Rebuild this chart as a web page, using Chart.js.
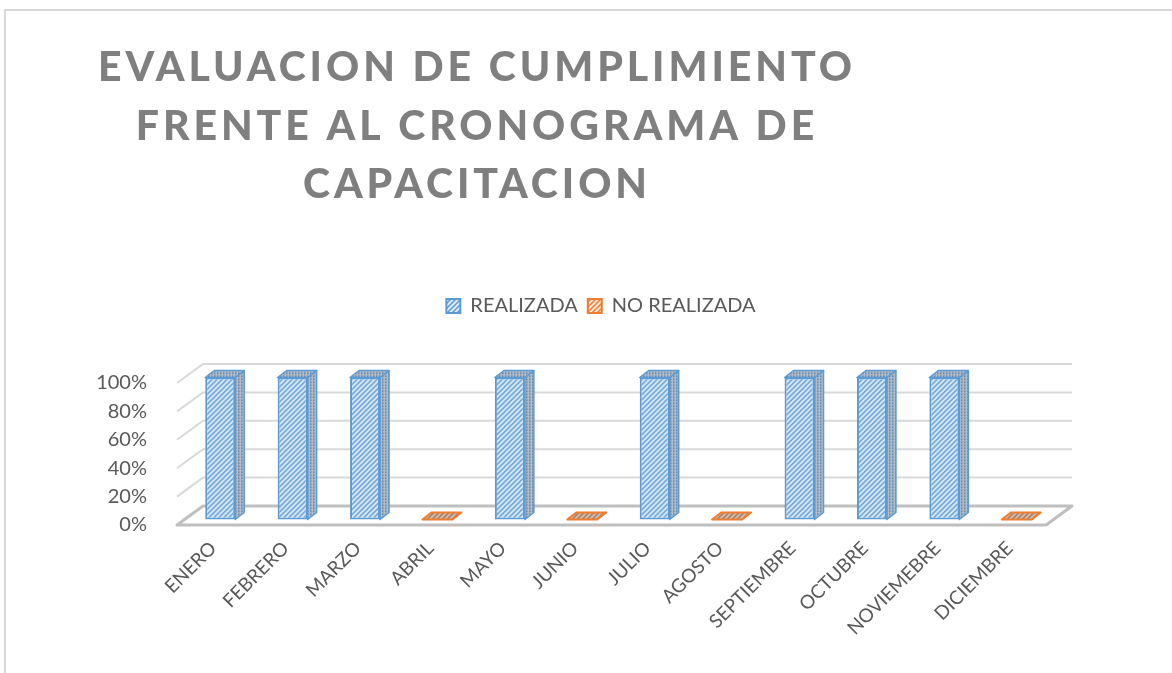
<!DOCTYPE html>
<html>
<head>
<meta charset="utf-8">
<script src="https://cdn.jsdelivr.net/npm/chart.js@4.4.1/dist/chart.umd.min.js"></script>
<style>
  html, body { margin: 0; background: #fff; }
</style>
</head>
<body>
<canvas id="chart" width="1172" height="673"></canvas>
<script>
// data
const months = ["ENERO", "FEBRERO", "MARZO", "ABRIL", "MAYO", "JUNIO", "JULIO",
  "AGOSTO", "SEPTIEMBRE", "OCTUBRE", "NOVIEMEBRE", "DICIEMBRE"];
const realizada = [1, 1, 1, null, 1, null, 1, null, 1, 1, 1, null];
const noRealizada = [null, null, null, 0, null, 0, null, 0, null, null, null, 0];
const yTicks = [0, 0.2, 0.4, 0.6, 0.8, 1];
const yTickLabels = ["0%", "20%", "40%", "60%", "80%", "100%"];
const titleLines = ["EVALUACION DE CUMPLIMIENTO", "FRENTE AL CRONOGRAMA DE", "CAPACITACION"];

// 3d look: wall depth, bar position inside the depth, bar depth
const wall = { x: 26, y: -19 };
const shift = { x: 7, y: -5.5 };
const depth = { x: 9, y: -7 };

function makePattern(bg, fg, kind) {
  const c = document.createElement("canvas");
  const s = kind === "dots" ? 3 : 5;
  c.width = s; c.height = s;
  const g = c.getContext("2d");
  g.fillStyle = bg;
  g.fillRect(0, 0, s, s);
  g.fillStyle = fg;
  g.strokeStyle = fg;
  if (kind === "dots") {
    g.fillRect(0, 0, 1.5, 1.5);
  } else {
    g.lineWidth = 1.5;
    g.beginPath();
    g.moveTo(-1, s + 1); g.lineTo(s + 1, -1);
    g.moveTo(-1, 1); g.lineTo(1, -1);
    g.moveTo(s - 1, s + 1); g.lineTo(s + 1, s - 1);
    g.stroke();
  }
  return g.createPattern(c, "repeat");
}

const blueFront = makePattern("#deebf7", "#5b9bd5", "stripes");
const blueSide = makePattern("#b3bdc8", "#56799f", "dots");
const orangeFront = makePattern("#fbe5d6", "#ed7d31", "stripes");
const orangeSide = makePattern("#d2c2b6", "#a8704b", "stripes");
const sideFills = [blueSide, orangeSide];

const frame = {
  id: "frame",
  beforeDraw(chart) {
    const ctx = chart.ctx;
    ctx.save();
    ctx.strokeStyle = "#d9d9d9";
    ctx.lineWidth = 2;
    ctx.strokeRect(5, 10, 1200, 700);
    ctx.restore();
  },
  afterDraw(chart) {
    const ctx = chart.ctx;
    ctx.save();
    ctx.font = "900 41px Lato";
    ctx.fillStyle = "#7f7f7f";
    ctx.textBaseline = "alphabetic";
    ctx.letterSpacing = "0px";
    const natural = ctx.measureText(titleLines[0]).width;
    const sp = (754 - natural) / (titleLines[0].length - 1);
    ctx.letterSpacing = sp + "px";
    const cx = 475;
    const baselines = [81, 139.5, 198];
    titleLines.forEach((line, i) => {
      const w = ctx.measureText(line).width - sp;
      ctx.fillText(line, cx - w / 2, baselines[i]);
    });
    ctx.restore();
  }
};

const walls = {
  id: "walls",
  beforeUpdate(chart) {
    // give the legend room down to the plot
    const lg = chart.legend;
    if (lg && !lg._patched) {
      const fit = lg.fit;
      lg.fit = function () {
        fit.call(this);
        this.height = 383 - 286;
      };
      lg._patched = true;
    }
  },
  afterLayout(chart) {
    // the legend sits right of centre in the reference
    chart.legend.left += 78;
    chart.legend.right += 78;
  },
  beforeDatasetsDraw(chart) {
    const { ctx, chartArea: a, scales: { y } } = chart;
    ctx.save();
    ctx.strokeStyle = "#d9d9d9";
    ctx.lineWidth = 2;
    yTicks.forEach(v => {
      if (v === 0) return;
      const py = y.getPixelForValue(v);
      ctx.beginPath();
      ctx.moveTo(a.left, py);
      ctx.lineTo(a.left + wall.x, py + wall.y);
      ctx.lineTo(a.right + wall.x, py + wall.y);
      ctx.stroke();
    });
    const py0 = y.getPixelForValue(0);
    ctx.strokeStyle = "#bfbfbf";
    ctx.lineWidth = 3;
    ctx.lineJoin = "round";
    ctx.beginPath();
    ctx.moveTo(a.left, py0);
    ctx.lineTo(a.right, py0);
    ctx.lineTo(a.right + wall.x, py0 + wall.y);
    ctx.lineTo(a.left + wall.x, py0 + wall.y);
    ctx.closePath();
    ctx.stroke();
    ctx.restore();
    ctx.save();
    ctx.translate(shift.x, shift.y);
  },
  afterDatasetsDraw(chart) {
    const ctx = chart.ctx;
    chart.data.datasets.forEach((ds, i) => {
      const meta = chart.getDatasetMeta(i);
      meta.data.forEach((bar, j) => {
        if (ds.data[j] == null) return;
        const { x, y, base, width } = bar.getProps(["x", "y", "base", "width"], true);
        const l = x - width / 2, r = x + width / 2;
        ctx.fillStyle = sideFills[i];
        ctx.strokeStyle = ds.borderColor;
        ctx.lineWidth = 1.5;
        ctx.lineJoin = "round";
        if (base - y > 1) {
          ctx.beginPath();
          ctx.moveTo(r, y);
          ctx.lineTo(r + depth.x, y + depth.y);
          ctx.lineTo(r + depth.x, base + depth.y);
          ctx.lineTo(r, base);
          ctx.closePath();
          ctx.fill();
          ctx.stroke();
        }
        ctx.beginPath();
        ctx.moveTo(l, y);
        ctx.lineTo(l + depth.x, y + depth.y);
        ctx.lineTo(r + depth.x, y + depth.y);
        ctx.lineTo(r, y);
        ctx.closePath();
        ctx.fill();
        ctx.lineWidth = base - y > 1 ? 1.5 : 2;
        ctx.stroke();
      });
    });
    ctx.restore();
  }
};

const tickColor = "#595959";

new Chart(document.getElementById("chart"), {
  type: "bar",
  data: {
    labels: months,
    datasets: [
      {
        label: "REALIZADA",
        data: realizada,
        backgroundColor: blueFront,
        borderColor: "#5b9bd5",
        borderWidth: 2,
        borderSkipped: false
      },
      {
        label: "NO REALIZADA",
        data: noRealizada,
        backgroundColor: orangeFront,
        borderColor: "#ed7d31",
        borderWidth: 2,
        borderSkipped: false
      }
    ]
  },
  options: {
    responsive: false,
    devicePixelRatio: 1,
    animation: false,
    barPercentage: 1,
    categoryPercentage: 0.414,
    clip: false,
    layout: { padding: { top: 286, left: 0, right: 126, bottom: 0 } },
    plugins: {
      title: { display: false },
      tooltip: { enabled: false },
      legend: {
        position: "top",
        labels: {
          color: tickColor,
          font: { family: "Lato", size: 20 },
          boxWidth: 14,
          boxHeight: 14,
          padding: 10
        }
      }
    },
    scales: {
      x: {
        stacked: true,
        grid: { display: false },
        border: { display: false },
        ticks: {
          color: tickColor,
          font: { family: "Lato", size: 19 },
          autoSkip: false,
          minRotation: 45,
          maxRotation: 45,
          padding: 4
        },
        afterFit(s) { s.height = 673 - 525; }
      },
      y: {
        stacked: true,
        min: 0,
        max: 1,
        grid: { display: false },
        border: { display: false },
        ticks: {
          color: tickColor,
          font: { family: "Lato", size: 20 },
          stepSize: 0.2,
          padding: 22,
          callback: (v, i) => yTickLabels[i]
        },
        afterFit(s) { s.width = 177; }
      }
    }
  },
  plugins: [frame, walls]
});
</script>
</body>
</html>
